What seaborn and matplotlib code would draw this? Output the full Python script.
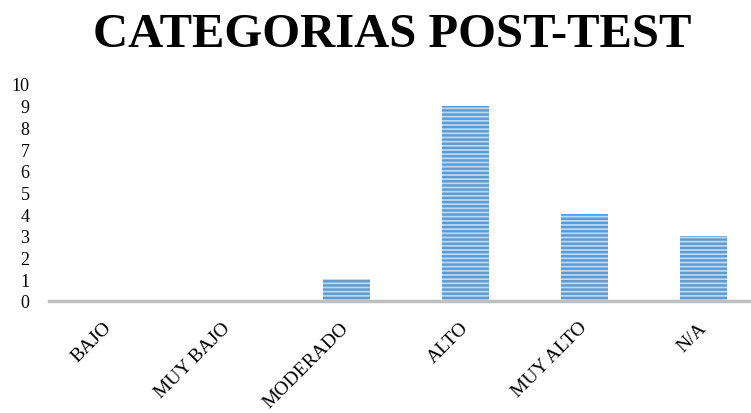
import matplotlib
matplotlib.use("Agg")
import matplotlib.pyplot as plt
import seaborn as sns

# Data
categorias = ["BAJO", "MUY BAJO", "MODERADO", "ALTO", "MUY ALTO", "N/A"]
valores = [0, 0, 1, 9, 4, 3]
y_ticks = list(range(0, 11))

sns.set_style("white")
plt.rcParams["font.family"] = ["Liberation Serif", "DejaVu Serif"]
plt.rcParams["text.color"] = "black"
plt.rcParams["xtick.color"] = "black"
plt.rcParams["ytick.color"] = "black"
plt.rcParams["hatch.linewidth"] = 1.7

fig = plt.figure(figsize=(7.51, 4.14), dpi=100)
ax = fig.add_axes([49 / 751, (414 - 302) / 414, 714 / 751, 217 / 414])

sns.barplot(x=categorias, y=valores, ax=ax, width=0.39, color="#bdd7ee")

# Striped fill like the original
for bar in ax.patches:
    bar.set_facecolor("#bdd7ee")
    bar.set_edgecolor("#5b9bd5")
    bar.set_hatch("----")
    bar.set_linewidth(0)

ax.set_xlim(-0.5, 5.5)
ax.set_ylim(0, 10)
ax.set_yticks(y_ticks)
ax.set_xlabel("")
ax.set_ylabel("")

for s in ["top", "right", "left"]:
    ax.spines[s].set_visible(False)
ax.spines["bottom"].set_color("#bfbfbf")
ax.spines["bottom"].set_linewidth(2.5)

ax.tick_params(axis="y", length=0, pad=14, labelsize=13, labelcolor="black")
ax.tick_params(axis="x", length=0, pad=17, labelsize=14, labelcolor="black")
for lab in ax.get_xticklabels():
    lab.set_rotation(45)
    lab.set_ha("right")
    lab.set_va("center")
    lab.set_rotation_mode("anchor")

fig.text(0.522, 1 - 47 / 414, "CATEGORIAS POST-TEST", ha="center", va="baseline",
         fontsize=35, fontweight="bold", color="black")

fig.savefig("out.png", dpi=100)
